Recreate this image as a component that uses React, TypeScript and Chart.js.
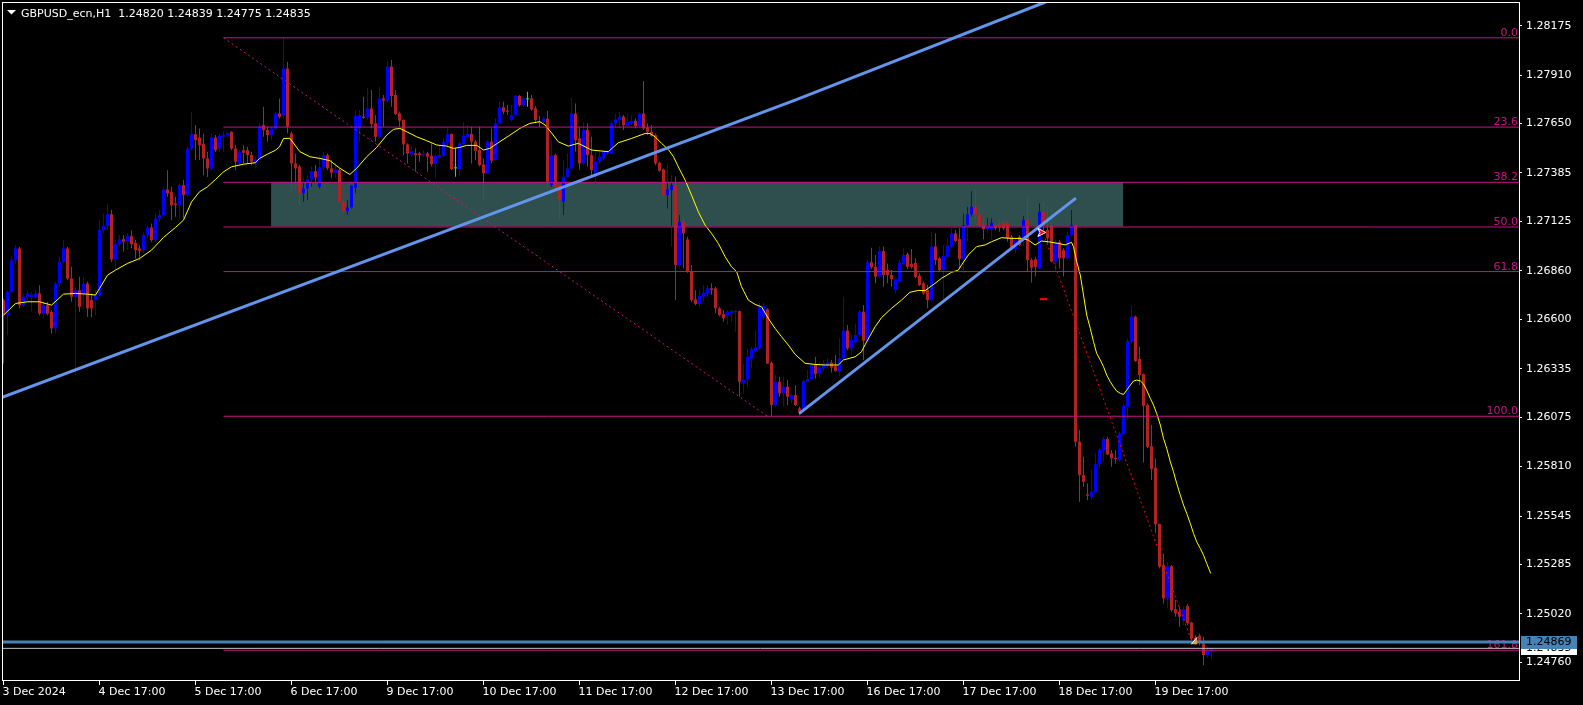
import React, { useEffect, useRef } from 'react';
import { Chart, registerables } from 'chart.js';

Chart.register(...registerables);

// ---------- chart values ----------
const openP = [
  1.26703,1.26622,1.26747,1.26917,1.26980,1.26676,1.26721,1.26721,1.26721,1.26739,
  1.26631,1.26676,1.26640,1.26551,1.26792,1.26908,1.26980,1.26819,1.26721,1.26756,
  1.26740,1.26792,1.26703,1.26703,1.26730,1.27078,1.27100,1.27164,1.26921,1.27003,
  1.27030,1.27016,1.27046,1.27010,1.26980,1.26971,1.27052,1.27093,1.27025,1.27141,
  1.27159,1.27296,1.27284,1.27221,1.27212,1.27320,1.27266,1.27516,1.27593,1.27575,
  1.27540,1.27463,1.27409,1.27575,1.27516,1.27579,1.27588,1.27606,1.27516,1.27436,
  1.27507,1.27507,1.27481,1.27436,1.27457,1.27642,1.27615,1.27588,1.27624,1.27704,
  1.27695,1.27945,1.27597,1.27436,1.27419,1.27276,1.27302,1.27351,1.27395,1.27311,
  1.27415,1.27481,1.27410,1.27386,1.27401,1.27231,1.27181,1.27200,1.27306,1.27624,
  1.27687,1.27683,1.27731,1.27651,1.27579,1.27785,1.27773,1.27955,1.27803,1.27705,
  1.27669,1.27538,1.27485,1.27490,1.27490,1.27485,1.27490,1.27476,1.27433,1.27472,
  1.27478,1.27547,1.27594,1.27410,1.27406,1.27538,1.27579,1.27594,1.27553,1.27508,
  1.27431,1.27383,1.27553,1.27454,1.27651,1.27737,1.27719,1.27669,1.27696,1.27798,
  1.27749,1.27780,1.27785,1.27731,1.27660,1.27658,1.27676,1.27320,1.27481,1.27320,
  1.27231,1.27365,1.27409,1.27704,1.27570,1.27436,1.27615,1.27481,1.27374,1.27445,
  1.27463,1.27490,1.27490,1.27651,1.27669,1.27687,1.27637,1.27651,1.27665,1.27637,
  1.27704,1.27629,1.27606,1.27588,1.27440,1.27404,1.27266,1.27293,1.27320,1.26891,
  1.27123,1.27029,1.26855,1.26707,1.26682,1.26721,1.26735,1.26766,1.26766,1.26659,
  1.26628,1.26623,1.26635,1.26639,1.26644,1.26256,1.26278,1.26390,1.26431,1.26444,
  1.26614,1.26653,1.26367,1.26140,1.26265,1.26203,1.26238,1.26170,1.26194,1.26122,
  1.26113,1.26265,1.26280,1.26355,1.26310,1.26337,1.26351,1.26369,1.26349,1.26319,
  1.26391,1.26539,1.26444,1.26476,1.26516,1.26641,1.26485,1.26906,1.26882,1.26829,
  1.26966,1.26864,1.26838,1.26757,1.26802,1.26895,1.26949,1.26898,1.26902,1.26834,
  1.26793,1.26757,1.26703,1.26990,1.26927,1.26864,1.26936,1.26990,1.27061,1.27031,
  1.26923,1.27106,1.27163,1.27204,1.27163,1.27109,1.27084,1.27084,1.27106,1.27109,
  1.27118,1.27115,1.27043,1.26977,1.27043,1.27025,1.27133,1.26918,1.26922,1.26873,
  1.27177,1.27079,1.27106,1.26909,1.27016,1.26972,1.26927,1.27052,1.27105,1.25943,
  1.25764,1.25661,1.25648,1.25671,1.25822,1.25895,1.25958,1.25881,1.25857,1.25845,
  1.25983,1.26131,1.26480,1.26614,1.26387,1.26306,1.26140,1.25920,1.25804,1.25502,
  1.25282,1.25103,1.25276,1.25046,1.25031,1.24987,1.25062,1.24973,1.24892,1.24903,
  1.24861,1.24799,1.24820,
];
const highP = [
  1.26710,1.26756,1.26935,1.26998,1.26989,1.26739,1.26756,1.26747,1.26756,1.26783,
  1.26694,1.26694,1.26649,1.26801,1.26935,1.27025,1.26989,1.26882,1.26774,1.26828,
  1.26828,1.26801,1.26739,1.26756,1.27132,1.27168,1.27221,1.27186,1.27025,1.27052,
  1.27052,1.27061,1.27078,1.27025,1.26998,1.27061,1.27105,1.27114,1.27168,1.27186,
  1.27311,1.27400,1.27311,1.27257,1.27329,1.27347,1.27525,1.27713,1.27642,1.27624,
  1.27597,1.27498,1.27597,1.27588,1.27597,1.27606,1.27606,1.27609,1.27534,1.27507,
  1.27534,1.27525,1.27498,1.27472,1.27650,1.27740,1.27633,1.27633,1.27713,1.27785,
  1.28110,1.27981,1.27606,1.27490,1.27428,1.27365,1.27374,1.27419,1.27428,1.27481,
  1.27499,1.27490,1.27454,1.27436,1.27410,1.27240,1.27240,1.27320,1.27723,1.27723,
  1.27794,1.27839,1.27830,1.27696,1.27848,1.27803,1.27985,1.27991,1.27830,1.27714,
  1.27672,1.27544,1.27529,1.27517,1.27499,1.27508,1.27499,1.27544,1.27485,1.27535,
  1.27571,1.27630,1.27597,1.27517,1.27553,1.27660,1.27642,1.27633,1.27562,1.27633,
  1.27463,1.27562,1.27624,1.27678,1.27767,1.27767,1.27749,1.27749,1.27803,1.27803,
  1.27794,1.27821,1.27803,1.27744,1.27690,1.27687,1.27719,1.27561,1.27490,1.27329,
  1.27454,1.27490,1.27787,1.27758,1.27633,1.27660,1.27651,1.27579,1.27508,1.27499,
  1.27508,1.27508,1.27660,1.27704,1.27713,1.27696,1.27704,1.27696,1.27678,1.27710,
  1.27878,1.27651,1.27642,1.27597,1.27445,1.27409,1.27436,1.27374,1.27365,1.27159,
  1.27150,1.27043,1.26891,1.26757,1.26757,1.26784,1.26784,1.26793,1.26775,1.26667,
  1.26650,1.26650,1.26650,1.26650,1.26646,1.26363,1.26444,1.26453,1.26542,1.26689,
  1.26689,1.26659,1.26372,1.26301,1.26292,1.26292,1.26274,1.26203,1.26247,1.26131,
  1.26274,1.26328,1.26364,1.26399,1.26373,1.26382,1.26391,1.26382,1.26408,1.26498,
  1.26721,1.26569,1.26516,1.26578,1.26650,1.26677,1.26922,1.26984,1.26945,1.26990,
  1.26990,1.26900,1.26864,1.26820,1.26918,1.26981,1.26959,1.26977,1.26927,1.26847,
  1.26802,1.26784,1.27070,1.27061,1.26936,1.26999,1.27034,1.27088,1.27079,1.27088,
  1.27168,1.27204,1.27288,1.27288,1.27204,1.27142,1.27145,1.27142,1.27115,1.27138,
  1.27127,1.27124,1.27052,1.27034,1.27052,1.27156,1.27258,1.26927,1.26936,1.27222,
  1.27231,1.27204,1.27204,1.27025,1.27025,1.26981,1.27070,1.27186,1.27114,1.26006,
  1.25863,1.25720,1.25791,1.25881,1.25908,1.25970,1.25970,1.25899,1.25899,1.25997,
  1.26149,1.26498,1.26673,1.26620,1.26453,1.26310,1.26149,1.26033,1.25854,1.25505,
  1.25344,1.25300,1.25282,1.25094,1.25058,1.25058,1.25071,1.24978,1.24906,1.24915,
  1.24897,1.24844,1.24839,
];
const lowP = [
  1.26363,1.26515,1.26739,1.26900,1.26658,1.26667,1.26694,1.26640,1.26712,1.26622,
  1.26604,1.26622,1.26524,1.26524,1.26774,1.26900,1.26810,1.26694,1.26301,1.26640,
  1.26658,1.26613,1.26613,1.26622,1.26721,1.27061,1.27078,1.26908,1.26864,1.26989,
  1.26962,1.26971,1.26980,1.26926,1.26917,1.26953,1.27034,1.27016,1.27016,1.27123,
  1.27150,1.27257,1.27132,1.27150,1.27141,1.27141,1.27257,1.27507,1.27454,1.27454,
  1.27373,1.27364,1.27400,1.27498,1.27498,1.27498,1.27579,1.27507,1.27400,1.27427,
  1.27436,1.27436,1.27427,1.27409,1.27454,1.27579,1.27552,1.27561,1.27615,1.27677,
  1.27677,1.27597,1.27284,1.27293,1.27213,1.27231,1.27240,1.27311,1.27338,1.27302,
  1.27401,1.27401,1.27356,1.27356,1.27222,1.27168,1.27159,1.27195,1.27276,1.27553,
  1.27676,1.27669,1.27624,1.27553,1.27571,1.27633,1.27767,1.27740,1.27696,1.27633,
  1.27481,1.27436,1.27472,1.27392,1.27445,1.27472,1.27392,1.27419,1.27356,1.27463,
  1.27472,1.27517,1.27401,1.27365,1.27368,1.27535,1.27571,1.27436,1.27454,1.27419,
  1.27236,1.27379,1.27436,1.27451,1.27647,1.27701,1.27696,1.27660,1.27690,1.27740,
  1.27740,1.27740,1.27719,1.27651,1.27630,1.27651,1.27302,1.27311,1.27302,1.27132,
  1.27159,1.27356,1.27401,1.27499,1.27401,1.27427,1.27418,1.27365,1.27329,1.27436,
  1.27454,1.27481,1.27486,1.27633,1.27624,1.27615,1.27633,1.27642,1.27624,1.27633,
  1.27615,1.27588,1.27579,1.27427,1.27392,1.27257,1.27195,1.26989,1.26703,1.26873,
  1.26873,1.26850,1.26694,1.26676,1.26667,1.26694,1.26721,1.26730,1.26632,1.26617,
  1.26587,1.26569,1.26587,1.26533,1.26185,1.26203,1.26238,1.26337,1.26426,1.26435,
  1.26596,1.26360,1.26080,1.26131,1.26185,1.26131,1.26140,1.26149,1.26135,1.26086,
  1.26104,1.26262,1.26274,1.26283,1.26287,1.26323,1.26337,1.26315,1.26319,1.26292,
  1.26382,1.26435,1.26408,1.26471,1.26507,1.26382,1.26480,1.26870,1.26793,1.26820,
  1.26775,1.26793,1.26775,1.26739,1.26798,1.26891,1.26870,1.26873,1.26820,1.26779,
  1.26730,1.26659,1.26695,1.26891,1.26855,1.26707,1.26927,1.26981,1.27016,1.26873,
  1.26847,1.27016,1.27150,1.27142,1.27097,1.27029,1.27061,1.27025,1.27079,1.27070,
  1.27079,1.27016,1.26972,1.26954,1.26993,1.26990,1.26855,1.26798,1.26829,1.26870,
  1.27079,1.27007,1.26906,1.26855,1.26873,1.26829,1.26918,1.27043,1.25916,1.25621,
  1.25702,1.25630,1.25630,1.25666,1.25800,1.25836,1.25872,1.25809,1.25827,1.25836,
  1.25979,1.26060,1.26471,1.26372,1.26247,1.25832,1.25908,1.25738,1.25452,1.25264,
  1.25076,1.25049,1.25031,1.25005,1.24951,1.24960,1.24960,1.24879,1.24856,1.24851,
  1.24745,1.24785,1.24775,
];
const closeP = [
  1.26622,1.26747,1.26917,1.26980,1.26676,1.26721,1.26739,1.26730,1.26739,1.26631,
  1.26676,1.26631,1.26551,1.26792,1.26908,1.26980,1.26819,1.26721,1.26756,1.26667,
  1.26790,1.26658,1.26658,1.26730,1.27078,1.27100,1.27164,1.26921,1.27003,1.27028,
  1.27016,1.27046,1.27003,1.26971,1.26967,1.27052,1.27093,1.27025,1.27141,1.27159,
  1.27296,1.27275,1.27212,1.27212,1.27320,1.27266,1.27516,1.27593,1.27561,1.27534,
  1.27463,1.27409,1.27575,1.27507,1.27584,1.27588,1.27597,1.27516,1.27445,1.27498,
  1.27493,1.27481,1.27445,1.27457,1.27636,1.27615,1.27588,1.27624,1.27704,1.27686,
  1.27945,1.27633,1.27436,1.27409,1.27276,1.27302,1.27351,1.27395,1.27360,1.27415,
  1.27481,1.27410,1.27386,1.27401,1.27231,1.27181,1.27200,1.27317,1.27690,1.27696,
  1.27680,1.27731,1.27647,1.27579,1.27785,1.27773,1.27955,1.27798,1.27701,1.27665,
  1.27538,1.27490,1.27503,1.27481,1.27481,1.27490,1.27472,1.27433,1.27478,1.27481,
  1.27553,1.27594,1.27406,1.27410,1.27544,1.27585,1.27594,1.27553,1.27504,1.27428,
  1.27383,1.27553,1.27451,1.27651,1.27737,1.27714,1.27714,1.27696,1.27798,1.27749,
  1.27785,1.27780,1.27726,1.27669,1.27655,1.27676,1.27338,1.27481,1.27311,1.27240,
  1.27365,1.27409,1.27704,1.27561,1.27436,1.27615,1.27481,1.27401,1.27445,1.27472,
  1.27499,1.27499,1.27651,1.27672,1.27687,1.27642,1.27660,1.27665,1.27637,1.27704,
  1.27624,1.27606,1.27583,1.27436,1.27397,1.27266,1.27297,1.27320,1.26891,1.27123,
  1.27061,1.26855,1.26703,1.26682,1.26725,1.26743,1.26766,1.26757,1.26659,1.26623,
  1.26605,1.26641,1.26644,1.26644,1.26265,1.26278,1.26399,1.26439,1.26449,1.26671,
  1.26671,1.26363,1.26140,1.26265,1.26203,1.26238,1.26185,1.26194,1.26140,1.26104,
  1.26269,1.26280,1.26355,1.26307,1.26342,1.26364,1.26369,1.26341,1.26324,1.26391,
  1.26539,1.26444,1.26489,1.26516,1.26641,1.26485,1.26906,1.26879,1.26829,1.26966,
  1.26838,1.26838,1.26816,1.26816,1.26904,1.26945,1.26882,1.26881,1.26827,1.26784,
  1.26739,1.26703,1.26990,1.26918,1.26864,1.26941,1.26995,1.27061,1.27020,1.26923,
  1.27106,1.27163,1.27204,1.27163,1.27106,1.27084,1.27097,1.27118,1.27088,1.27093,
  1.27088,1.27034,1.26981,1.27024,1.26999,1.27133,1.26918,1.26877,1.26882,1.27177,
  1.27102,1.27034,1.26909,1.27016,1.26927,1.26927,1.27052,1.27105,1.25943,1.25764,
  1.25729,1.25654,1.25675,1.25822,1.25899,1.25958,1.25875,1.25854,1.25850,1.25988,
  1.26136,1.26483,1.26614,1.26376,1.26301,1.26136,1.25916,1.25797,1.25500,1.25273,
  1.25103,1.25276,1.25040,1.25022,1.25005,1.25046,1.24969,1.24888,1.24874,1.24870,
  1.24799,1.24820,1.24835,
];

// moving average (yellow line): [bar index, price]
const maLine: [number, number][] = [
  [0,1.26622],[3,1.26685],[6,1.26694],[9,1.26694],[12,1.26676],[15,1.26735],[18,1.26739],[21,1.26735],
  [23,1.26730],[24,1.26765],[26,1.26837],[28,1.26864],[31,1.26900],[34,1.26926],[37,1.26971],[40,1.27039],
  [43,1.27093],[45,1.27132],[47,1.27230],[49,1.27284],[51,1.27311],[53,1.27350],[55,1.27391],[57,1.27418],
  [60,1.27432],[63,1.27440],[64,1.27463],[66,1.27486],[68,1.27507],[69,1.27525],[70,1.27570],[71.6,1.27571],
  [74.1,1.27499],[76.6,1.27472],[79.1,1.27463],[81.6,1.27451],[84.1,1.27410],[86.6,1.27377],[88.3,1.27410],
  [90.8,1.27472],[93.3,1.27522],[95.8,1.27588],[97.5,1.27619],[99.1,1.27624],[100.8,1.27606],[103.3,1.27579],
  [105.8,1.27558],[108.3,1.27535],[110.8,1.27529],[112.5,1.27517],[114.1,1.27522],[115.8,1.27533],[118.3,1.27533],
  [120,1.27508],[121.6,1.27517],[124.1,1.27553],[126.6,1.27588],[129.1,1.27624],[131.6,1.27651],[134.1,1.27660],
  [135.4,1.27642],[137,1.27600],[138.7,1.27552],[141.2,1.27529],[143.7,1.27544],[147,1.27508],[151.2,1.27499],
  [153.7,1.27547],[157,1.27570],[160.4,1.27597],[161.6,1.27597],[162.9,1.27579],[164.5,1.27544],[166.2,1.27511],
  [167.5,1.27472],[168.7,1.27418],[170.4,1.27347],[172,1.27266],[173.7,1.27177],[175.4,1.27105],[177,1.27061],
  [178.7,1.27007],[180.4,1.26936],[182,1.26882],[183.3,1.26855],[184.5,1.26775],[186.2,1.26703],[187.9,1.26680],
  [189.5,1.26667],[191.2,1.26605],[192.9,1.26551],[194.5,1.26507],[196.2,1.26462],[197.9,1.26412],
  [200.4,1.26364],[202.9,1.26358],[205.4,1.26355],[208.7,1.26355],[210,1.26382],[212.9,1.26399],[214.5,1.26426],
  [215.8,1.26480],[217.9,1.26560],[219.5,1.26609],[222,1.26659],[224.5,1.26703],[226.6,1.26745],[228.7,1.26755],
  [230.4,1.26754],[232.9,1.26793],[234.5,1.26820],[237,1.26852],[238.7,1.26864],[239.5,1.26891],[241.2,1.26945],
  [243.3,1.26990],[245.4,1.26999],[247,1.27016],[249.5,1.27038],[252,1.27034],[254.5,1.27034],[256.2,1.27025],
  [257.9,1.26999],[259.5,1.27020],[261.2,1.27016],[263.7,1.27007],[265.4,1.26999],[267,1.27013],
  [267.5,1.26989],[268.3,1.26909],[269.2,1.26837],[270,1.26730],[270.8,1.26623],[271.7,1.26551],[272.5,1.26480],
  [273.3,1.26417],[274.2,1.26381],[275,1.26346],[275.8,1.26301],[276.7,1.26265],[277.5,1.26238],[278.3,1.26215],
  [279.2,1.26203],[280,1.26197],[280.8,1.26220],[281.7,1.26247],[282.5,1.26269],[283.3,1.26274],[284.2,1.26270],
  [285,1.26253],[285.8,1.26220],[286.7,1.26176],[287.5,1.26140],[288.3,1.26095],[289.2,1.26033],[290,1.25961],
  [290.8,1.25908],[291.7,1.25836],[292.5,1.25782],[293.3,1.25720],[294.2,1.25657],[295,1.25604],[295.8,1.25559],
  [296.7,1.25505],[297.5,1.25452],[298.3,1.25407],[299.2,1.25371],[300,1.25335],[300.8,1.25291],[301.8,1.25237],
];

const priceTicks = [1.28175,1.27910,1.27650,1.27385,1.27125,1.26860,1.26600,1.26335,1.26075,1.25810,1.25545,1.25285,1.25020,1.24760];
const priceTickLabels = ['1.28175','1.27910','1.27650','1.27385','1.27125','1.26860','1.26600','1.26335','1.26075','1.25810','1.25545','1.25285','1.25020','1.24760'];
const timeTickIndex = [0,24,48,72,96,120,144,168,192,216,240,264,288];
const timeTickLabels = ['3 Dec 2024','4 Dec 17:00','5 Dec 17:00','6 Dec 17:00','9 Dec 17:00','10 Dec 17:00','11 Dec 17:00','12 Dec 17:00','13 Dec 17:00','16 Dec 17:00','17 Dec 17:00','18 Dec 17:00','19 Dec 17:00'];

const fibLevels = [1.28110,1.27631,1.27335,1.27095,1.26856,1.26080,1.24825];
const fibLabels = ['0.0','23.6','38.2','50.0','61.8','100.0','161.8'];
const fibStartIdx = 55;
const fibEndIdx = 400;
const fibAnchorIdx = [55,191];
const fibAnchorPrice = [1.28110,1.26080];

const zoneIdx = [66.9,279.9];
const zonePrice = [1.27336,1.27098];

const trendAIdx = [-0.9,197.9,260.5];
const trendAPrice = [1.26177,1.27776,1.28302];
const trendBIdx = [198.9,268.1];
const trendBPrice = [1.26094,1.27250];
const redDotIdx = [260.4,297.1];
const redDotPrice = [1.27034,1.24870];
const stopMarkIdx = [259.1,260.9];
const stopMarkPrice = [1.26708,1.26708];
const markerIdx = 297.8;
const markerPrice = 1.24876;
const arrowIdx = 259.6;
const arrowPrice = 1.27066;

const hLinePrice = 1.24869;
const bidPrice = 1.24835;
const titleText = 'GBPUSD_ecn,H1  1.24820 1.24839 1.24775 1.24835';

const X_MIN = -0.375;
const X_MAX = 378.875;
const Y_MIN = 1.24660;
const Y_MAX = 1.28302;

// ---------- styles ----------
const W = 1583;
const H = 705;
const FONT = '"DejaVu Sans", "Liberation Sans", sans-serif';
const BULL = '#0000FF';
const BEAR = '#B22222';
const DOJI = '#00FF00';
const FIB = '#C71585';

const seg = (xs: number[], ys: number[]) => xs.map((x, k) => ({ x, y: ys[k] }));

const lineDs = (data: any[], color: string, width: number, order: number, dash: number[] = []) => ({
  type: 'line',
  data,
  borderColor: color,
  backgroundColor: color,
  borderWidth: width,
  borderDash: dash,
  pointRadius: 0,
  pointHoverRadius: 0,
  tension: 0,
  fill: false,
  order,
  clip: 0,
});

const overlayPlugin = {
  id: 'mt4overlay',
  beforeDraw(chart: any) {
    const { ctx } = chart;
    ctx.save();
    ctx.fillStyle = '#000000';
    ctx.fillRect(0, 0, chart.width, chart.height);
    ctx.restore();
  },
  beforeDatasetsDraw(chart: any) {
    const { ctx, chartArea: a, scales } = chart;
    const x = scales.x;
    const y = scales.y;
    ctx.save();
    ctx.beginPath();
    ctx.rect(a.left, a.top, a.right - a.left, a.bottom - a.top);
    ctx.clip();
    const x0 = x.getPixelForValue(zoneIdx[0]);
    const x1 = x.getPixelForValue(zoneIdx[1]);
    const y0 = y.getPixelForValue(zonePrice[0]);
    const y1 = y.getPixelForValue(zonePrice[1]);
    ctx.fillStyle = '#2F4F4F';
    ctx.fillRect(x0, y0, x1 - x0, y1 - y0);
    // fib level labels
    ctx.font = `11px ${FONT}`;
    ctx.fillStyle = FIB;
    ctx.textAlign = 'right';
    ctx.textBaseline = 'alphabetic';
    fibLevels.forEach((lv, k) => {
      ctx.fillText(fibLabels[k], a.right - 1, y.getPixelForValue(lv) - 2);
    });
    ctx.restore();
  },
  afterDraw(chart: any) {
    const { ctx, chartArea: a, scales } = chart;
    const x = scales.x;
    const y = scales.y;
    ctx.save();
    // small trade marker
    const mx = x.getPixelForValue(markerIdx);
    const my = y.getPixelForValue(markerPrice);
    ctx.beginPath();
    ctx.moveTo(mx - 3.5, my + 3.5);
    ctx.lineTo(mx + 2.5, my - 3.5);
    ctx.lineTo(mx + 2.5, my + 3.5);
    ctx.closePath();
    ctx.fillStyle = '#E3A23B';
    ctx.fill();
    ctx.beginPath();
    ctx.moveTo(mx - 3.5, my + 3.5);
    ctx.lineTo(mx + 2.5, my - 3.5);
    ctx.strokeStyle = '#FFFFFF';
    ctx.lineWidth = 1;
    ctx.stroke();

    // red arrow object
    const ax = x.getPixelForValue(arrowIdx);
    const ay = y.getPixelForValue(arrowPrice);
    ctx.beginPath();
    ctx.moveTo(ax - 4, ay - 4);
    ctx.lineTo(ax + 4, ay);
    ctx.lineTo(ax - 4, ay + 4);
    ctx.lineTo(ax - 2, ay);
    ctx.closePath();
    ctx.fillStyle = '#FF0000';
    ctx.fill();
    ctx.strokeStyle = '#FFFFFF';
    ctx.stroke();

    // frame
    ctx.strokeStyle = '#FFFFFF';
    ctx.lineWidth = 1;
    ctx.strokeRect(a.left + 0.5, a.top + 0.5, a.right - a.left, a.bottom - a.top - 1);

    // price boxes on axis
    ctx.font = `11px ${FONT}`;
    ctx.textAlign = 'left';
    ctx.textBaseline = 'middle';
    const by = y.getPixelForValue(bidPrice);
    ctx.fillStyle = '#FFFFFF';
    ctx.fillRect(a.right + 2, Math.round(by) - 6, 56, 13);
    ctx.fillStyle = '#000000';
    ctx.fillText(bidPrice.toFixed(5), a.right + 7, Math.round(by) + 0.5);
    const hy = y.getPixelForValue(hLinePrice);
    ctx.fillStyle = '#4682B4';
    ctx.fillRect(a.right + 2, Math.round(hy) - 6, 56, 13);
    ctx.fillStyle = '#000000';
    ctx.fillText(hLinePrice.toFixed(5), a.right + 7, Math.round(hy) + 0.5);

    // title
    ctx.fillStyle = '#FFFFFF';
    ctx.beginPath();
    ctx.moveTo(7, 10);
    ctx.lineTo(16, 10);
    ctx.lineTo(11.5, 14.5);
    ctx.closePath();
    ctx.fill();
    ctx.textBaseline = 'alphabetic';
    ctx.fillText(titleText, 21, 16.5);
    ctx.restore();
  },
};

export default function App() {
  const ref = useRef<HTMLCanvasElement | null>(null);

  useEffect(() => {
    if (!ref.current) return;
    const idx = openP.map((_, i) => i);
    const colors = idx.map((i) =>
      closeP[i] > openP[i] ? BULL : closeP[i] < openP[i] ? BEAR : DOJI
    );

    const datasets: any[] = [
      {
        type: 'bar',
        data: idx.map((i) => ({ x: i, y: [lowP[i], highP[i]] })),
        backgroundColor: colors,
        borderWidth: 0,
        barThickness: 1,
        grouped: false,
        minBarLength: 1,
        inflateAmount: 0,
        order: 30,
      },
      {
        type: 'bar',
        data: idx.map((i) => ({ x: i, y: [openP[i], closeP[i]] })),
        backgroundColor: colors,
        borderWidth: 0,
        barThickness: 3,
        grouped: false,
        minBarLength: 1,
        inflateAmount: 0,
        order: 29,
      },
      lineDs(maLine.map(([xv, yv]) => ({ x: xv, y: yv })), '#FFFF00', 1, 20),
      ...fibLevels.map((lv) => lineDs(seg([fibStartIdx, fibEndIdx], [lv, lv]), FIB, 1, 15)),
      lineDs(seg(fibAnchorIdx, fibAnchorPrice), FIB, 1, 15, [2, 3]),
      lineDs(seg([-2, 400], [bidPrice, bidPrice]), '#C0C0C0', 1, 14),
      lineDs(seg(redDotIdx, redDotPrice), '#FF0000', 1, 13, [2, 3]),
      lineDs(seg(stopMarkIdx, stopMarkPrice), '#FF0000', 2, 13),
      lineDs(seg(trendAIdx, trendAPrice), '#6495ED', 3, 10),
      lineDs(seg(trendBIdx, trendBPrice), '#6495ED', 3, 10),
      lineDs(seg([-2, 400], [hLinePrice, hLinePrice]), '#4682B4', 3, 9),
    ];

    const chart = new Chart(ref.current, {
      type: 'bar',
      data: { datasets },
      options: {
        responsive: false,
        animation: false,
        devicePixelRatio: 1,
        events: [],
        layout: { padding: { left: 2, top: 2, right: 0, bottom: 0 } },
        plugins: {
          legend: { display: false },
          tooltip: { enabled: false },
        },
        scales: {
          x: {
            type: 'linear',
            position: 'bottom',
            min: X_MIN,
            max: X_MAX,
            offset: false,
            bounds: 'data',
            grid: {
              offset: false,
              drawOnChartArea: false,
              drawTicks: true,
              tickLength: 4,
              color: '#FFFFFF',
              tickColor: '#FFFFFF',
              lineWidth: 1,
            },
            border: { display: false },
            ticks: {
              autoSkip: false,
              maxRotation: 0,
              minRotation: 0,
              align: 'start',
              labelOffset: -1,
              padding: 1,
              color: '#FFFFFF',
              font: { family: FONT, size: 11 },
              callback: (_v: any, i: number) => timeTickLabels[i] ?? '',
            },
            afterBuildTicks: (s: any) => {
              s.ticks = timeTickIndex.map((v) => ({ value: v }));
            },
            afterFit: (s: any) => {
              s.height = 24;
              s.paddingLeft = 0;
              s.paddingRight = 0;
              s.paddingTop = 0;
              s.paddingBottom = 0;
            },
          },
          y: {
            type: 'linear',
            position: 'right',
            min: Y_MIN,
            max: Y_MAX,
            bounds: 'data',
            beginAtZero: false,
            grid: {
              drawOnChartArea: false,
              drawTicks: true,
              tickLength: 3,
              color: '#FFFFFF',
              tickColor: '#FFFFFF',
              lineWidth: 1,
            },
            border: { display: false },
            ticks: {
              autoSkip: false,
              padding: 4,
              color: '#FFFFFF',
              font: { family: FONT, size: 11 },
              callback: (_v: any, i: number) => priceTickLabels[i] ?? '',
            },
            afterBuildTicks: (s: any) => {
              s.ticks = priceTicks.map((v) => ({ value: v }));
            },
            afterFit: (s: any) => {
              s.width = 64;
              s.paddingLeft = 0;
              s.paddingRight = 0;
              s.paddingTop = 0;
              s.paddingBottom = 0;
            },
          },
        },
      } as any,
      plugins: [overlayPlugin as any],
    } as any);

    return () => chart.destroy();
  }, []);

  return (
    <div style={{ position: 'fixed', left: 0, top: 0, width: W, height: H, background: '#000' }}>
      <canvas ref={ref} width={W} height={H} style={{ display: 'block', width: W, height: H }} />
    </div>
  );
}
